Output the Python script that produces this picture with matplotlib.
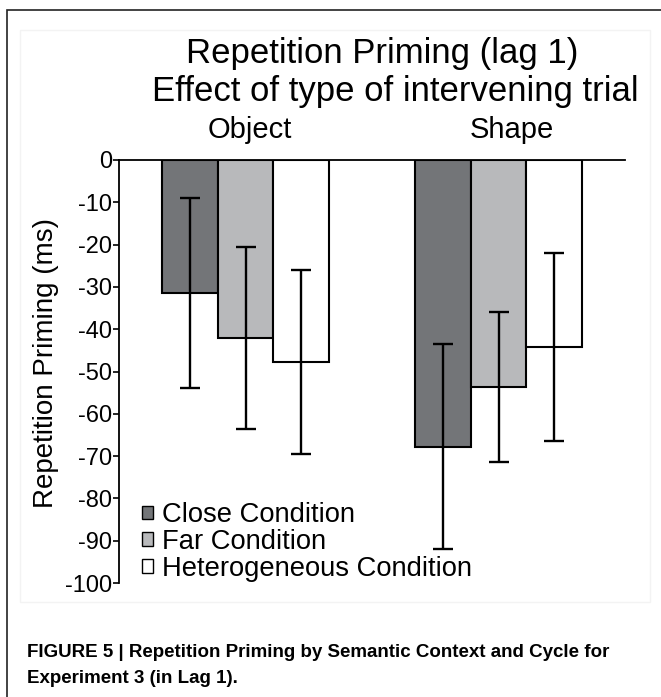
import matplotlib
matplotlib.use("Agg")
import matplotlib.pyplot as plt
from matplotlib.patches import Rectangle
import numpy as np

plt.rcParams['font.family'] = ['Liberation Sans', 'DejaVu Sans']

groups = ["Object", "Shape"]
conditions = ["Close Condition", "Far Condition", "Heterogeneous Condition"]
close_vals = [-31.4, -67.8]
far_vals = [-42.0, -53.7]
hetero_vals = [-47.7, -44.3]
close_err = [22.5, 24.2]
far_err = [21.5, 17.8]
hetero_err = [21.8, 22.2]
yticks = [0, -10, -20, -30, -40, -50, -60, -70, -80, -90, -100]
ytick_labels = ["0", "-10", "-20", "-30", "-40", "-50", "-60", "-70", "-80", "-90", "-100"]
colors = ["#737578", "#b8b9bb", "#ffffff"]

W, H = 661, 697
fig = plt.figure(figsize=(W / 100, H / 100), dpi=100)

def fx(px):
    return px / W

def fy(py):
    return 1 - py / H

# outer frame and faint chart area
fig.patches.append(Rectangle((fx(7), fy(740)), fx(700), fy(10) - fy(740),
                             transform=fig.transFigure, fill=False,
                             edgecolor="#222222", linewidth=1.2))
fig.patches.append(Rectangle((fx(20), fy(602)), fx(650) - fx(20), fy(30) - fy(602),
                             transform=fig.transFigure, fill=False,
                             edgecolor="#f3f3f3", linewidth=1.0))

ax = fig.add_axes([fx(119), fy(583), fx(625) - fx(119), fy(160) - fy(583)])

x = np.arange(len(groups))
width = 0.22
series = [close_vals, far_vals, hetero_vals]
errs = [close_err, far_err, hetero_err]
for i, (vals, e, c, lab) in enumerate(zip(series, errs, colors, conditions)):
    pos = x + (i - 1) * width
    ax.bar(pos, vals, width, color=c, edgecolor="black", linewidth=1.5,
           label=lab, zorder=2)
    ax.errorbar(pos, vals, yerr=e, fmt="none", ecolor="black",
                elinewidth=1.7, capsize=7.5, capthick=1.7, zorder=3)

ax.set_xlim(-0.5, 1.5)
ax.set_ylim(-100, 0)
ax.set_yticks(yticks)
ax.set_yticklabels(ytick_labels, fontsize=17)
ax.set_xticks([])
for s in ["right", "bottom"]:
    ax.spines[s].set_visible(False)
ax.spines["left"].set_linewidth(1.3)
ax.spines["top"].set_linewidth(1.3)
ax.tick_params(axis="y", direction="out", length=4, width=1.2, pad=1)

# y label
fig.text(fx(46), fy(363), "Repetition Priming (ms)", rotation=90,
         ha="center", va="center", fontsize=20)

# titles
fig.text(fx(382), fy(63), "Repetition Priming (lag 1)", ha="center",
         va="baseline", fontsize=25)
fig.text(fx(395), fy(101), "Effect of type of intervening trial", ha="center",
         va="baseline", fontsize=25)
fig.text(fx(250), fy(138), groups[0], ha="center", va="baseline", fontsize=21)
fig.text(fx(512), fy(138), groups[1], ha="center", va="baseline", fontsize=21)

# legend
leg = ax.legend(loc="lower left", bbox_to_anchor=(23 / 506, 1 / 423),
                bbox_transform=ax.transAxes, frameon=False, fontsize=19.7,
                handlelength=0.4, handleheight=0.4, handletextpad=0.33,
                labelspacing=0.03, borderpad=0.0, borderaxespad=0.0)
for h in leg.legend_handles:
    h.set_linewidth(1.0)

# caption
fig.text(fx(27), fy(657), "FIGURE 5 | Repetition Priming by Semantic Context and Cycle for",
         ha="left", va="baseline", fontsize=13.5, fontweight="bold")
fig.text(fx(27), fy(683), "Experiment 3 (in Lag 1).",
         ha="left", va="baseline", fontsize=13.5, fontweight="bold")

fig.savefig("out.png", dpi=100)
